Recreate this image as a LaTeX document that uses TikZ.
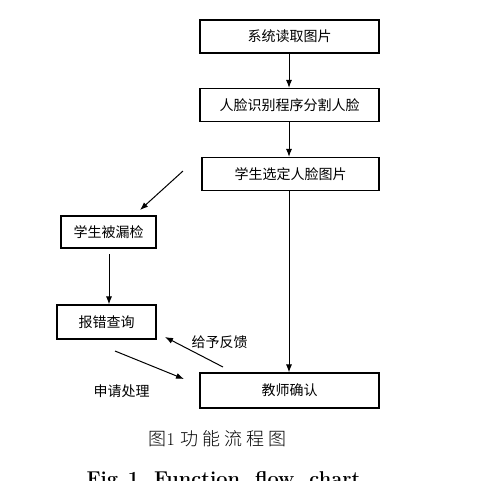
\documentclass[tikz,border=0pt]{standalone}
\usepackage{fontspec}
\newfontfamily\cjk{Noto Sans CJK SC}
\newfontfamily\cjkl{Noto Sans CJK SC Light}
\setmainfont{Latin Modern Roman}
\usetikzlibrary{arrows.meta}
\begin{document}
\begin{tikzpicture}[x=1pt,y=-1pt,
  box/.style={draw, line width=1.1pt, minimum height=33pt, inner sep=0pt, font=\cjk\fontsize{14}{16}\selectfont},
  arr/.style={line width=1pt, -{Latex[length=8pt,width=6pt]}},
  lbl/.style={font=\cjk\fontsize{14}{16}\selectfont}]
\useasboundingbox (0,0) rectangle (500,480);
\fill[white] (0,0) rectangle (500,480);
\node[box, minimum width=179pt] (a) at (289.5,36.5) {系统读取图片};
\node[box, minimum width=179pt] (b) at (289.5,105) {人脸识别程序分割人脸};
\node[box, minimum width=177pt] (c) at (290.5,174) {学生选定人脸图片};
\node[box, minimum width=95pt, minimum height=32pt] (d) at (108.5,232) {学生被漏检};
\node[box, minimum width=99pt, minimum height=34pt] (e) at (106.5,322) {报错查询};
\node[box, minimum width=179pt, minimum height=35pt] (f) at (289.5,390.5) {教师确认};
\draw[arr] (a.south -| 289,0) -- (b.north -| 289,0);
\draw[arr] (b.south -| 289,0) -- (c.north -| 289,0);
\draw[arr] (c.south -| 289,0) -- (f.north -| 289,0);
\coordinate (s1) at (183,171);
\coordinate (t1) at (140,210);
\draw[arr] (s1) -- (t1);
\coordinate (d1) at (109,254);
\draw[arr] (d1) -- (e.north -| 109,0);
\coordinate (s2) at (223,367);
\coordinate (t2) at (165,337);
\draw[arr] (s2) -- (t2);
\node[lbl, anchor=west] (l1) at (188,342) {给予反馈};
\coordinate (s3) at (115,351);
\coordinate (t3) at (184,379);
\draw[arr] (s3) -- (t3);
\node[lbl, anchor=west] (l2) at (90,391) {申请处理};
\node[font=\cjkl\fontsize{18}{20}\selectfont, anchor=west] (cap) at (145,439) {图\fontspec{Latin Modern Roman}1 \cjkl 功 能 流 程 图};
\node[font=\fontsize{20}{22}\selectfont\bfseries, anchor=north west] (cap2) at (83,468) {Fig.\,1\ \ Function\ \ flow\ \ chart};
\end{tikzpicture}
\end{document}
